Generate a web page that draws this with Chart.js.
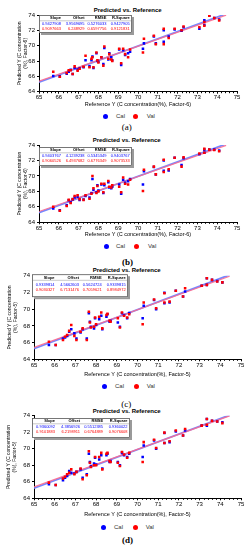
<!DOCTYPE html>
<html lang="en">
<head>
<meta charset="UTF-8" />
<title>Predicted vs. Reference</title>
<script src="https://cdn.jsdelivr.net/npm/chart.js"></script>
<style>
  html, body { margin: 0; padding: 0; background: #fff; }
  body { width: 249px; height: 550px; position: relative; overflow: hidden; font-family: 'Liberation Sans', Arial, sans-serif; }
  canvas { position: absolute; left: 0; }
  .title { position: absolute; left: 0; text-align: center; font-weight: bold; font-size: 6px; line-height: 7px; color: #000; white-space: nowrap; }
  .lg { position: absolute; font-size: 6px; line-height: 7px; color: #333; white-space: nowrap; }
  .dot { position: absolute; width: 5px; height: 5px; border-radius: 50%; }
  .cap { position: absolute; left: 0; text-align: center; font-family: 'Liberation Serif', 'Times New Roman', serif; font-size: 9px; line-height: 10px; color: #000; }
</style>
</head>
<body>
<script>
// reference values (same samples in every model)
const referenceY = [65.72, 66.05, 66.4, 66.5, 66.6, 66.7, 66.8, 66.95, 67.05, 67.25, 67.35, 67.55, 67.65, 67.7, 67.75, 67.9, 67.95, 68.0, 68.15, 68.25, 68.3, 68.5, 68.55, 68.65, 68.7, 69.05, 69.15, 69.25, 69.35, 69.5, 69.6, 70.25, 70.3, 70.8, 70.9, 71.3, 71.3, 71.55, 71.85, 72.2, 72.3, 73.1, 73.35, 73.35, 73.6, 73.85, 74.1];

// predicted values, (a) .. (d)
const calA = [66.05, 66.0, 66.35, 66.6, 66.85, 66.3, 67.1, 66.9, 67.05, 67.2, 68.1, 67.3, 68.1, 68.6, 67.1, 69.0, 68.0, 67.9, 68.5, 67.6, 69.7, 68.2, 69.0, 68.5, 68.1, 69.5, 67.5, 69.4, 68.8, 69.0, 69.2, 69.6, 70.3, 71.2, 70.3, 72.0, 70.5, 71.2, 72.1, 71.95, 72.4, 72.2, 73.3, 72.7, 73.9, 73.6, 73.4];
const valA = [66.6, 65.95, 66.45, 66.8, 66.8, 66.3, 67.3, 66.75, 67.0, 67.25, 68.7, 67.2, 68.3, 68.5, 67.2, 69.1, 68.1, 67.8, 68.5, 67.4, 69.9, 68.3, 68.9, 68.2, 68.0, 69.6, 67.7, 69.6, 68.9, 68.5, 69.5, 69.1, 70.9, 71.3, 70.2, 72.2, 70.2, 71.0, 72.2, 72.0, 72.5, 72.4, 73.1, 72.6, 73.9, 73.6, 73.3];
const calB = [65.8, 65.55, 66.2, 66.85, 66.6, 66.95, 67.2, 67.3, 66.9, 66.95, 67.4, 67.2, 67.8, 69.6, 68.2, 67.9, 68.8, 68.1, 68.9, 67.8, 68.8, 69.2, 68.5, 68.4, 68.6, 68.9, 67.7, 69.5, 69.1, 69.3, 69.6, 68.9, 70.6, 71.15, 70.2, 72.0, 70.65, 70.7, 72.35, 71.4, 72.3, 72.8, 73.4, 73.0, 73.4, 73.4, 73.3];
const valB = [66.0, 65.5, 66.1, 66.9, 66.5, 67.0, 67.4, 67.5, 67.0, 66.9, 67.5, 67.05, 67.7, 70.0, 68.4, 67.8, 68.7, 68.0, 69.0, 67.9, 69.0, 69.35, 68.6, 68.5, 68.8, 68.6, 67.9, 69.8, 69.0, 68.9, 69.5, 68.05, 70.8, 71.2, 70.2, 72.1, 70.5, 70.85, 72.35, 71.2, 72.4, 72.9, 73.5, 73.0, 73.4, 73.35, 73.2];
const calC = [65.7, 65.7, 66.5, 66.6, 66.8, 67.3, 67.6, 67.1, 66.5, 67.2, 67.6, 66.5, 69.5, 68.5, 67.9, 67.7, 68.9, 68.1, 68.8, 69.2, 67.6, 69.1, 69.4, 68.5, 68.6, 68.4, 67.9, 69.5, 69.3, 68.9, 69.55, 68.9, 70.4, 71.1, 70.0, 71.95, 70.7, 70.8, 72.2, 71.5, 72.1, 72.8, 73.7, 72.9, 73.5, 73.35, 73.2];
const valC = [66.1, 65.7, 66.3, 66.7, 66.9, 67.4, 68.1, 66.8, 66.3, 67.3, 67.7, 66.3, 69.7, 68.4, 67.8, 67.9, 69.0, 68.2, 69.1, 69.6, 67.7, 69.3, 69.45, 68.6, 68.5, 68.9, 67.8, 69.6, 69.2, 69.0, 69.4, 68.2, 70.8, 71.15, 70.1, 71.9, 70.8, 70.9, 72.2, 71.5, 72.5, 72.8, 73.7, 72.9, 73.5, 73.3, 73.2];
const calD = [65.7, 65.6, 66.2, 66.5, 66.7, 67.3, 67.1, 67.0, 67.2, 67.5, 66.5, 66.9, 69.4, 68.4, 67.9, 68.2, 68.9, 68.1, 68.7, 69.2, 67.6, 69.2, 69.4, 68.4, 68.5, 68.4, 68.0, 69.5, 69.2, 69.0, 69.4, 69.0, 70.4, 71.0, 70.0, 71.9, 70.7, 70.8, 72.1, 71.6, 72.2, 72.8, 73.6, 72.8, 73.4, 73.3, 73.2];
const valD = [65.9, 65.6, 66.4, 66.6, 66.9, 67.1, 67.5, 66.9, 67.2, 67.6, 66.3, 66.8, 69.7, 68.3, 67.8, 68.0, 69.0, 68.0, 69.0, 69.5, 67.5, 69.4, 69.5, 68.5, 68.4, 68.3, 67.9, 69.6, 69.3, 68.9, 69.5, 68.4, 70.8, 71.1, 70.1, 71.95, 70.7, 70.9, 72.2, 71.6, 72.4, 72.8, 73.6, 72.9, 73.4, 73.3, 73.1];

// regression line end points
const lineX = [65, 74.45];
const calLineA = [65.24, 74.15], valLineA = [65.38, 73.98];
const calLineB = [65.25, 74.13], valLineB = [65.39, 73.95];
const calLineC = [65.28, 74.10], valLineC = [65.41, 73.94];
const calLineD = [65.23, 74.07], valLineD = [65.38, 73.98];

// inset table
const statHeaders = ['Slope', 'Offset', 'RMSE', 'R-Square'];
const calStatsA = ['0.9427908', '3.9569695', '0.5276033', '0.9427905'];
const valStatsA = ['0.9097663', '6.248929', '0.6597756', '0.9121831'];
const calStatsB = ['0.9403767', '4.1239238', '0.5345349', '0.9403767'];
const valStatsB = ['0.9060526', '6.4937682', '0.6776349', '0.9073533'];
const calStatsC = ['0.9339814', '4.5662603', '0.5624724', '0.9339815'];
const valStatsC = ['0.9030327', '6.7131476', '0.7059621', '0.8984972'];
const calStatsD = ['0.9360092', '4.3856926', '0.5512385', '0.9360022'];
const valStatsD = ['0.9101883', '6.2198911', '0.6764889', '0.9076608'];

const factors = ['Factor-6', 'Factor-6', 'Factor-5', 'Factor-5'];
const captions = ['(a)', '(b)', '(c)', '(d)'];

Chart.defaults.font.family = "'Liberation Sans', Arial, sans-serif";
Chart.defaults.color = '#000';

// layout of each panel (absolute px)
const panels = [
  { top: 0, h: 110, titleY: 10.7, titleCx: 127.7, area: [39, 237, 15, 91.7], yTitleX: 20, xTitleY: 104.3,
    legend: [116, 105, 116, 135, 146.7], capY: 127, capCx: 126.7, capBold: false,
    box: { dx: 0, dy: 0, w: 93, h: 18, rows: [3.2, 9, 14] },
    cal: calA, val: valA, calLine: calLineA, valLine: valLineA, calStats: calStatsA, valStats: valStatsA },
  { top: 135, h: 105, titleY: 140.7, titleCx: 126.7, area: [39, 237, 145, 222.3], yTitleX: 20, xTitleY: 234,
    legend: [246, 106, 116, 136, 148], capY: 261.7, capCx: 127.5, capBold: true,
    box: { dx: 0, dy: 2, w: 93, h: 19, rows: [3.2, 8.5, 13.5] },
    cal: calB, val: valB, calLine: calLineB, valLine: valLineB, calStats: calStatsB, valStats: valStatsB },
  { top: 266, h: 114, titleY: 270.7, titleCx: 126.7, area: [34, 241, 275.7, 359.3], yTitleX: 9.5, xTitleY: 374,
    legend: [386.7, 104.3, 115, 136, 146.7], capY: 403.5, capCx: 126.2, capBold: false,
    box: { dx: -2, dy: -1.5, w: 96, h: 23, rows: [3.5, 10.5, 16] },
    cal: calC, val: valC, calLine: calLineC, valLine: valLineC, calStats: calStatsC, valStats: valStatsC },
  { top: 405, h: 115, titleY: 411.7, titleCx: 126.7, area: [34, 241, 415.7, 498.3], yTitleX: 8.5, xTitleY: 514,
    legend: [527, 103.3, 114, 135, 145.7], capY: 540, capCx: 127.5, capBold: true,
    box: { dx: -2, dy: 2.3, w: 98, h: 20, rows: [3.2, 8.8, 14] },
    cal: calD, val: valD, calLine: calLineD, valLine: valLineD, calStats: calStatsD, valStats: valStatsD }
];

const minorTicks = {
  id: 'minorTicks',
  afterDraw(chart) {
    const xs = chart.scales.x, ctx = chart.ctx;
    ctx.save();
    ctx.strokeStyle = '#000';
    ctx.lineWidth = 1;
    for (let v = 650; v <= 750; v += 2) {
      if (v % 10 === 0) continue;
      const px = Math.round(xs.getPixelForValue(v / 10)) + 0.5;
      ctx.beginPath();
      ctx.moveTo(px, xs.top);
      ctx.lineTo(px, xs.top + 1.5);
      ctx.stroke();
    }
    ctx.restore();
  }
};

const statsTable = {
  id: 'statsTable',
  afterDraw(chart, args, opts) {
    const p = opts.panel, b = p.box, ctx = chart.ctx;
    const x = chart.chartArea.left + b.dx, y = chart.chartArea.top + b.dy;
    const cols = [0.235, 0.49, 0.725, 0.975];
    ctx.save();
    ctx.fillStyle = '#9a9a9a';
    ctx.fillRect(x + 2, y + 2, b.w, b.h);
    ctx.fillStyle = '#fff';
    ctx.fillRect(x, y, b.w, b.h);
    ctx.strokeStyle = '#555';
    ctx.lineWidth = 0.8;
    ctx.strokeRect(x + 0.5, y + 0.5, b.w - 1, b.h - 1);
    ctx.strokeStyle = '#bbb';
    ctx.beginPath();
    ctx.moveTo(x + 1, y + b.rows[0] + 2.6);
    ctx.lineTo(x + b.w - 1, y + b.rows[0] + 2.6);
    ctx.stroke();
    ctx.textAlign = 'right';
    ctx.textBaseline = 'middle';
    const rows = [[statHeaders, '#000', 'bold 4px'], [p.calStats, '#0000ff', '4px'], [p.valStats, '#ff0000', '4px']];
    rows.forEach(([txt, col, f], r) => {
      ctx.fillStyle = col;
      ctx.font = f + " 'Liberation Sans', Arial, sans-serif";
      txt.forEach((t, i) => ctx.fillText(t, x + b.w * cols[i], y + b.rows[r]));
    });
    ctx.restore();
  }
};

function addText(cls, html, style) {
  const d = document.createElement('div');
  d.className = cls;
  d.innerHTML = html;
  Object.assign(d.style, style);
  document.body.appendChild(d);
  return d;
}

panels.forEach((p, k) => {
  const [left, right, top, bottom] = p.area;
  addText('title', 'Predicted vs. Reference', { top: (p.titleY - 3.5) + 'px', width: (p.titleCx * 2) + 'px' });

  const canvas = document.createElement('canvas');
  canvas.width = 249;
  canvas.height = p.h;
  canvas.style.top = p.top + 'px';
  document.body.appendChild(canvas);

  const fac = factors[k];
  const pts = arr => referenceY.map((x, i) => ({ x, y: arr[i] }));
  const line = arr => lineX.map((x, i) => ({ x, y: arr[i] }));

  new Chart(canvas, {
    type: 'scatter',
    data: {
      datasets: [
        { label: 'Val', data: pts(p.val), backgroundColor: '#ff0000', pointStyle: 'rect', pointRadius: 1.8, pointBorderWidth: 0, borderWidth: 0 },
        { label: 'Cal', data: pts(p.cal), backgroundColor: '#0000ff', pointStyle: 'rect', pointRadius: 1.8, pointBorderWidth: 0, borderWidth: 0 },
        { label: 'Val fit', data: line(p.valLine), showLine: true, borderColor: 'rgba(255,105,140,0.9)', borderWidth: 1.2, pointRadius: 0 },
        { label: 'Cal fit', data: line(p.calLine), showLine: true, borderColor: 'rgba(110,130,255,0.95)', borderWidth: 1.8, pointRadius: 0 }
      ]
    },
    options: {
      responsive: false,
      animation: false,
      devicePixelRatio: 1,
      layout: { padding: { left: 0, right: 249 - right, top: top - p.top, bottom: 0 } },
      plugins: {
        legend: { display: false },
        tooltip: { enabled: false },
        statsTable: { panel: p }
      },
      scales: {
        x: {
          type: 'linear', min: 65, max: 75,
          ticks: { stepSize: 1, font: { size: 6 }, color: '#000', padding: 0, maxRotation: 0, autoSkip: false },
          grid: { drawOnChartArea: false, tickLength: 2, color: '#000' },
          border: { color: '#000', width: 1 },
          title: { display: true, text: 'Reference Y (C concentration(%), ' + fac + ')', font: { size: 5.5, lineHeight: 1.2 }, color: '#000',
                   padding: { top: 0, bottom: p.top + p.h - p.xTitleY - 3.3 } },
          afterFit: s => { s.height = p.top + p.h - bottom; }
        },
        y: {
          type: 'linear', min: 64, max: 74,
          ticks: { stepSize: 2, font: { size: 6 }, color: '#000', padding: 2 },
          grid: { drawOnChartArea: false, tickLength: 2, color: '#000' },
          border: { color: '#000', width: 1 },
          title: { display: true, text: ['Predicted Y (C concentration', '(%), ' + fac + ')'], font: { size: 5, lineHeight: 1.2 }, color: '#000',
                   padding: { top: p.yTitleX - 3, bottom: 0 } },
          afterFit: s => { s.width = left; }
        }
      }
    },
    plugins: [minorTicks, statsTable]
  });

  const [ly, bx, cx, rx, vx] = p.legend;
  addText('dot', '', { left: (bx - 2.5) + 'px', top: (ly - 2.5) + 'px', background: '#0000ff' });
  addText('lg', 'Cal', { left: cx + 'px', top: (ly - 3.5) + 'px' });
  addText('dot', '', { left: (rx - 2.5) + 'px', top: (ly - 2.5) + 'px', background: '#ff0000' });
  addText('lg', 'Val', { left: vx + 'px', top: (ly - 3.5) + 'px' });

  addText('cap', captions[k], { top: (p.capY - 5) + 'px', width: (p.capCx * 2) + 'px', fontWeight: p.capBold ? 'bold' : 'normal' });
});
</script>
</body>
</html>
